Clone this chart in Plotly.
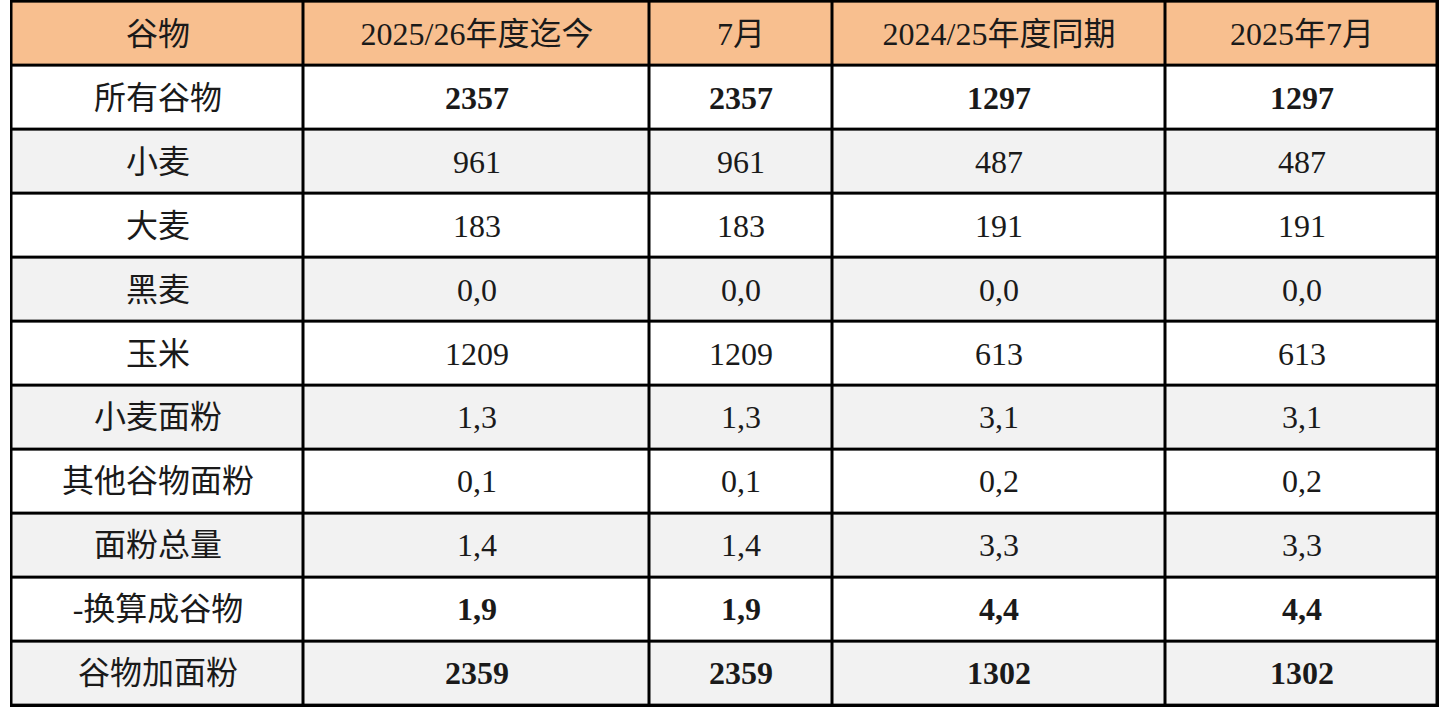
import plotly.graph_objects as go

# table contents
header = ['谷物', '2025/26年度迄今', '7月', '2024/25年度同期', '2025年7月']
grains = ['所有谷物', '小麦', '大麦', '黑麦', '玉米', '小麦面粉',
          '其他谷物面粉', '面粉总量', '-换算成谷物', '谷物加面粉']
season_to_date = ['2357', '961', '183', '0,0', '1209', '1,3', '0,1', '1,4', '1,9', '2359']
month_jul = ['2357', '961', '183', '0,0', '1209', '1,3', '0,1', '1,4', '1,9', '2359']
prev_season = ['1297', '487', '191', '0,0', '613', '3,1', '0,2', '3,3', '4,4', '1302']
jul_2025 = ['1297', '487', '191', '0,0', '613', '3,1', '0,2', '3,3', '4,4', '1302']
bold_rows = ['所有谷物', '-换算成谷物', '谷物加面粉']
col_widths = [292, 346, 183, 333, 272]

# column edges for the heatmap bricks
edges = [0]
for w in col_widths:
    edges.append(edges[-1] + w)

# text grid: header row then one row per grain, totals in bold
text = [header]
for i, g in enumerate(grains):
    vals = [season_to_date[i], month_jul[i], prev_season[i], jul_2025[i]]
    if g in bold_rows:
        vals = ['<b>{}</b>'.format(v) for v in vals]
    text.append([g] + vals)

# fill code: 2 = orange header, 0 = white, 1 = light grey banding
z = [[2] * len(header)]
for i in range(len(grains)):
    z.append([i % 2] * len(header))

rows = list(range(len(text)))

fig = go.Figure(go.Heatmap(
    x=edges,
    y=rows,
    z=z,
    text=text,
    texttemplate='%{text}',
    textfont=dict(family='Liberation Serif, Noto Sans CJK SC', size=32, color='#1a1a1a'),
    colorscale=[[0, 'white'], [0.5, '#f2f2f2'], [1, '#f8bf8f']],
    zmin=0, zmax=2,
    showscale=False,
    xgap=3, ygap=3,
    hoverinfo='skip',
))

fig.update_xaxes(range=[-1.5, edges[-1] + 1.5], visible=False, fixedrange=True)
fig.update_yaxes(range=[len(rows) - 0.5 + 0.025, -0.5 - 0.025], visible=False, fixedrange=True)

fig.update_layout(
    width=1455, height=716,
    margin=dict(l=10, r=16, t=0, b=9),
    plot_bgcolor='black',
    paper_bgcolor='white',
)

# drop the default page margin so the table sits at the window edge
fig.write_html("out.html", config={'displayModeBar': False},
               post_script="document.body.style.margin='0';")
